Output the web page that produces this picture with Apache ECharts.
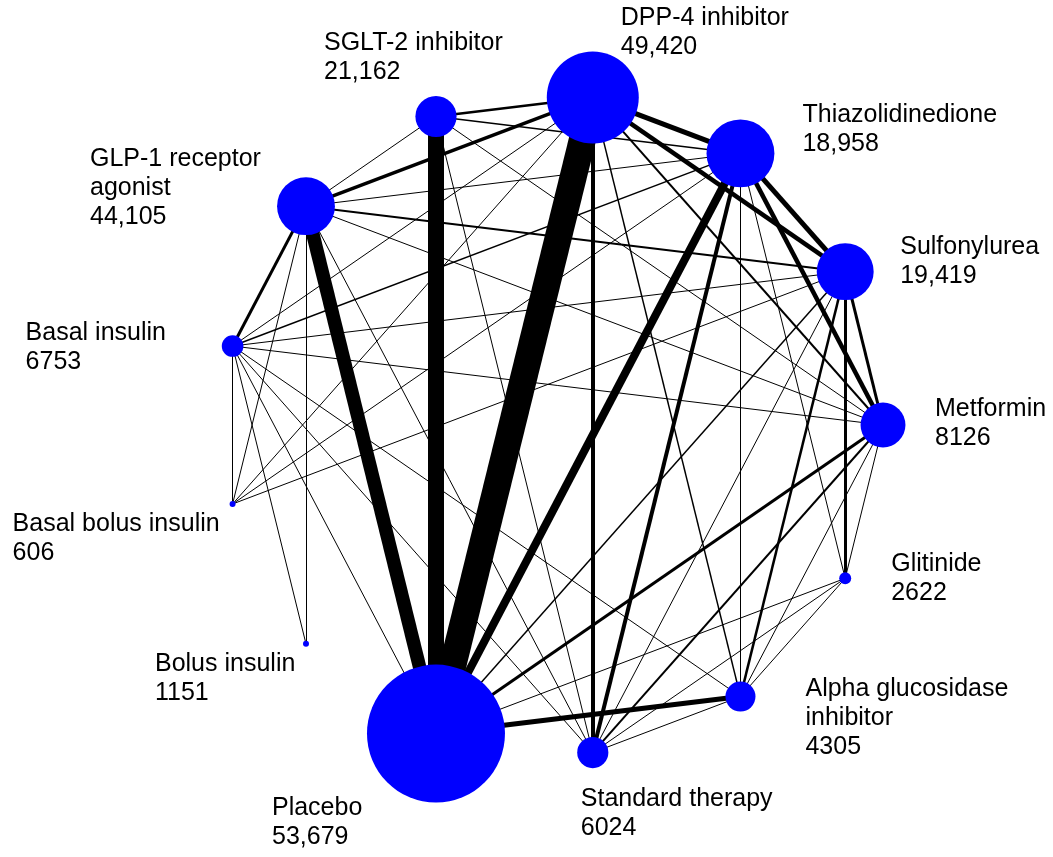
<!DOCTYPE html>
<html>
<head>
<meta charset="utf-8">
<script src="https://cdn.jsdelivr.net/npm/echarts@6/dist/echarts.min.js"></script>
<style>
  html, body { margin: 0; padding: 0; background: #fff; }
  #chart { width: 1053px; height: 857px; }
</style>
</head>
<body>
<div id="chart"></div>
<script>
// treatments in the order they sit on the circle, clockwise from 3 o'clock
const ids = ['MET', 'GLI', 'AGI', 'STD', 'PBO', 'BOL', 'BBI', 'BAS', 'GLP', 'SGL', 'DPP', 'TZD', 'SU'];
const labels = ['Metformin', 'Glitinide', 'Alpha glucosidase\ninhibitor', 'Standard therapy', 'Placebo',
  'Bolus insulin', 'Basal bolus insulin', 'Basal insulin', 'GLP-1 receptor\nagonist', 'SGLT-2 inhibitor',
  'DPP-4 inhibitor', 'Thiazolidinedione', 'Sulfonylurea'];
const patients = ['8126', '2622', '4305', '6024', '53,679', '1151', '606', '6753', '44,105', '21,162', '49,420', '18,958', '19,419'];
// node area ~ number of trials (estimated)
const trials = [56, 4, 25, 27, 529, 1, 1, 13, 93, 47, 235, 128, 90];

// direct comparisons: [a, b, number of comparisons] (estimated from line widths)
const comparisons = [
  ['PBO', 'DPP', 54], ['PBO', 'SGL', 32], ['PBO', 'GLP', 27], ['PBO', 'TZD', 16], ['PBO', 'AGI', 10],
  ['PBO', 'MET', 6], ['PBO', 'SU', 3], ['PBO', 'GLI', 2], ['PBO', 'BAS', 2],
  ['DPP', 'TZD', 10], ['DPP', 'SU', 9], ['DPP', 'STD', 8], ['DPP', 'GLP', 7], ['DPP', 'SGL', 5],
  ['DPP', 'MET', 4], ['DPP', 'AGI', 3], ['DPP', 'BAS', 2], ['DPP', 'BBI', 2],
  ['TZD', 'SU', 10], ['TZD', 'MET', 9], ['TZD', 'STD', 8], ['TZD', 'SGL', 3], ['TZD', 'GLP', 2],
  ['TZD', 'GLI', 2], ['TZD', 'AGI', 2], ['TZD', 'BAS', 3], ['TZD', 'BBI', 2],
  ['SU', 'MET', 6], ['SU', 'GLI', 6], ['SU', 'AGI', 5], ['SU', 'GLP', 4], ['SU', 'BAS', 2],
  ['SU', 'BBI', 2], ['SU', 'STD', 2],
  ['MET', 'STD', 4], ['MET', 'GLP', 2], ['MET', 'SGL', 2], ['MET', 'BAS', 2], ['MET', 'AGI', 2], ['MET', 'GLI', 2],
  ['GLP', 'BAS', 6], ['GLP', 'SGL', 2], ['GLP', 'STD', 2], ['GLP', 'BOL', 2], ['GLP', 'BBI', 2],
  ['SGL', 'STD', 2],
  ['BAS', 'BBI', 2], ['BAS', 'BOL', 2], ['BAS', 'STD', 2], ['BAS', 'AGI', 2],
  ['STD', 'AGI', 2], ['STD', 'GLI', 2], ['GLI', 'AGI', 2]
];

// label placement (top-left of the text block relative to node centre)
const labelOffset = {
  MET: [52, -30], GLI: [46, -29], AGI: [65, -22], STD: [-12, 32], PBO: [-164, 60],
  BOL: [-151, 6], BBI: [-220, 6], BAS: [-207, -27], GLP: [-216, -62], SGL: [-112, -88],
  DPP: [28, -94], TZD: [62, -53], SU: [55, -39]
};

const nodes = ids.map((id, i) => ({
  name: id,
  value: [1, i],
  symbolSize: Math.sqrt(trials[i]) * 6,
  label: {
    formatter: labels[i] + '\n' + patients[i],
    offset: labelOffset[id]
  }
}));

const links = comparisons.map(c => ({
  source: c[0],
  target: c[1],
  lineStyle: { width: c[2] / 2 }
}));

const chart = echarts.init(document.getElementById('chart'));
chart.setOption({
  animation: false,
  backgroundColor: '#fff',
  polar: { center: [553, 425], radius: 330 },
  angleAxis: { type: 'value', min: 0, max: ids.length, startAngle: 0, clockwise: true, show: false },
  radiusAxis: { type: 'value', min: 0, max: 1, show: false },
  series: [{
    type: 'graph',
    coordinateSystem: 'polar',
    polarIndex: 0,
    layout: 'none',
    symbol: 'circle',
    silent: true,
    itemStyle: { color: '#0000ff' },
    lineStyle: { color: '#000', opacity: 1, curveness: 0 },
    label: {
      show: true,
      position: 'inside',
      align: 'left',
      verticalAlign: 'top',
      color: '#000',
      fontFamily: 'Liberation Sans, Arial, sans-serif',
      fontSize: 25,
      lineHeight: 29
    },
    data: nodes,
    links: links
  }]
});
</script>
</body>
</html>
